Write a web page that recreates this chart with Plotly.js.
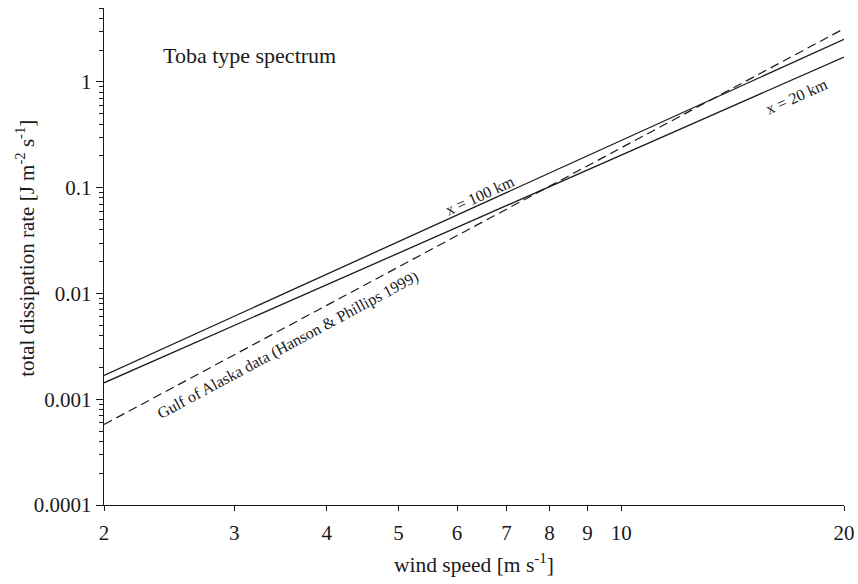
<!DOCTYPE html>
<html>
<head>
<meta charset="utf-8">
<script src="https://cdn.plot.ly/plotly-3.0.1.min.js"></script>
<style>html,body{margin:0;padding:0;background:#fff;}#chart{width:858px;height:584px;}</style>
</head>
<body>
<div id="chart"></div>
<script>
// Data (log-log straight lines)
const windSpeed = [2, 20];
const dissip100km = [0.00168, 2.53];
const dissip20km = [0.00143, 1.72];
const gulfAlaska = [0.000577, 3.19];

const xTickVals = [2, 3, 4, 5, 6, 7, 8, 9, 10, 20];
const xTickText = ['2', '3', '4', '5', '6', '7', '8', '9', '10', '20'];
const yTickVals = [0.0001, 0.001, 0.01, 0.1, 1];
const yTickText = ['0.0001', '0.001', '0.01', '0.1', '1'];
const yMinorVals = [];
[0.0001, 0.001, 0.01, 0.1, 1].forEach(d => { for (let k = 2; k <= 9; k++) yMinorVals.push(d * k); });

const FONT = '"Liberation Serif", "Times New Roman", serif';
const INK = '#1a1a1a';

const traces = [
  {x: windSpeed, y: dissip100km, mode: 'lines', line: {color: INK, width: 1.3}, name: 'x = 100 km'},
  {x: windSpeed, y: dissip20km, mode: 'lines', line: {color: INK, width: 1.3}, name: 'x = 20 km'},
  {x: windSpeed, y: gulfAlaska, mode: 'lines', line: {color: INK, width: 1.2, dash: '9px,5px'}, name: 'Gulf of Alaska'}
];

const layout = {
  width: 858, height: 584,
  margin: {l: 104, r: 14, t: 8, b: 79},
  paper_bgcolor: '#fff', plot_bgcolor: '#fff',
  showlegend: false,
  font: {family: FONT, color: INK, size: 21},
  xaxis: {
    type: 'log', range: [Math.log10(2), Math.log10(20)],
    tickmode: 'array', tickvals: xTickVals, ticktext: xTickText,
    ticks: 'outside', ticklen: 5, tickwidth: 1, tickcolor: INK,
    showline: true, linecolor: INK, linewidth: 1.2,
    showgrid: false, zeroline: false, mirror: false,
    tickfont: {family: FONT, size: 21, color: INK},
    ticklabelstandoff: 4,
    title: {text: 'wind speed [m s<sup>-1</sup>]', font: {family: FONT, size: 21.5, color: INK}, standoff: 12}
  },
  yaxis: {
    type: 'log', range: [-4, Math.log10(5)],
    tickmode: 'array', tickvals: yTickVals, ticktext: yTickText,
    ticks: 'outside', ticklen: 7, tickwidth: 1, tickcolor: INK,
    minor: {tickmode: 'array', tickvals: yMinorVals, ticks: 'outside', ticklen: 4, tickwidth: 1, tickcolor: INK, showgrid: false},
    showline: true, linecolor: INK, linewidth: 1.2,
    showgrid: false, zeroline: false,
    tickfont: {family: FONT, size: 21, color: INK}
  },
  annotations: [
    {text: 'total dissipation rate [J m<sup>-2</sup> s<sup>-1</sup>]', xref: 'paper', yref: 'paper', x: -0.107, y: 0.517,
     showarrow: false, textangle: -90, xanchor: 'center', yanchor: 'middle', font: {family: FONT, size: 21, color: INK}},
    {text: 'Toba type spectrum', xref: 'paper', yref: 'paper', x: 0.196, y: 0.905, showarrow: false,
     xanchor: 'center', yanchor: 'middle', font: {family: FONT, size: 22, color: INK}},
    {text: 'x = 100 km', xref: 'paper', yref: 'paper', x: 0.508, y: 0.622, showarrow: false, textangle: -24.5,
     xanchor: 'center', yanchor: 'middle', font: {family: FONT, size: 16, color: INK}},
    {text: 'x = 20 km', xref: 'paper', yref: 'paper', x: 0.936, y: 0.821, showarrow: false, textangle: -24,
     xanchor: 'center', yanchor: 'middle', font: {family: FONT, size: 16, color: INK}},
    {text: 'Gulf of Alaska data (Hanson &amp; Phillips 1999)', xref: 'paper', yref: 'paper', x: 0.249, y: 0.322,
     showarrow: false, textangle: -28.3, xanchor: 'center', yanchor: 'middle', font: {family: FONT, size: 16, color: INK}}
  ]
};

Plotly.newPlot('chart', traces, layout, {displayModeBar: false, staticPlot: true});
</script>
</body>
</html>
